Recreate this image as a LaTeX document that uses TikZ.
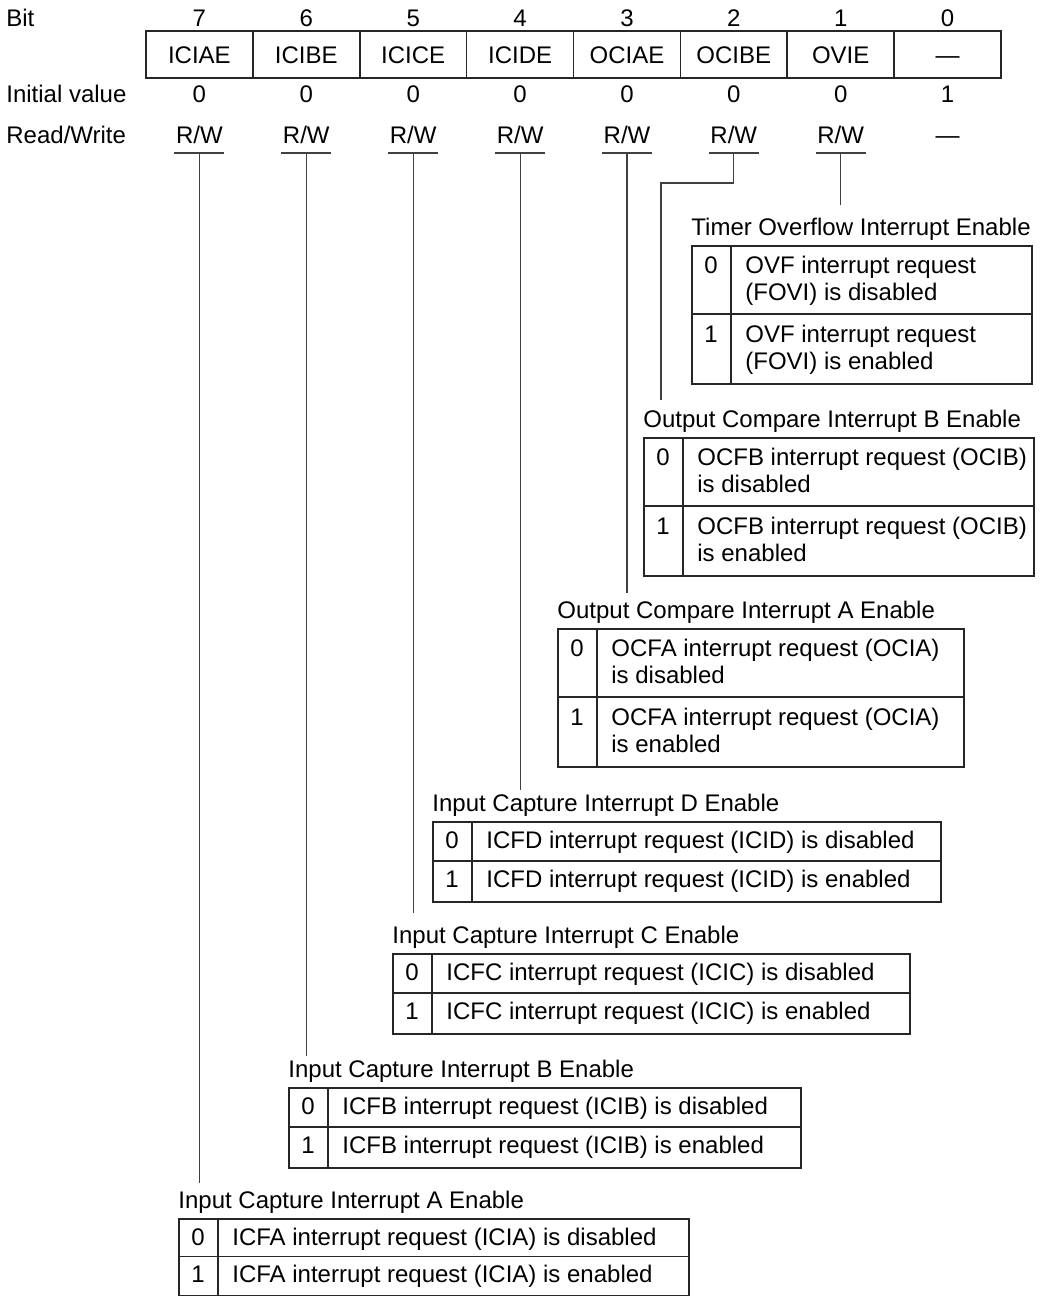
\documentclass[tikz,border=0pt]{standalone}
\usepackage{fontspec}
\setmainfont{Liberation Sans}
\newcommand\dtabB[9]{% name, L, T, R, title, a1, a2, b1, b2
  \node[txt,anchor=base west] (#1-t) at (#2,{#3-10}) {#5};
  \node[tabbox,anchor=north west,minimum width={(#4-#2)*0.5},minimum height=69pt] (#1) at (#2,#3) {};
  \draw[tabline] (#2,{#3+69}) -- (#4,{#3+69});
  \draw[tabline] ({#2+40},#3) -- ({#2+40},{#3+138});
  \node[txt,anchor=base] (#1-v0) at ({#2+20},{#3+28}) {0};
  \node[txt,anchor=base west] (#1-a1) at ({#2+54},{#3+28}) {#6};
  \node[txt,anchor=base west] (#1-a2) at ({#2+54},{#3+55}) {#7};
  \node[txt,anchor=base] (#1-v1) at ({#2+20},{#3+97}) {1};
  \node[txt,anchor=base west] (#1-b1) at ({#2+54},{#3+97}) {#8};
  \node[txt,anchor=base west] (#1-b2) at ({#2+54},{#3+124}) {#9};
}
\newcommand\dtabA[8]{% name, L, T, R, rowh, title, a, b
  \node[txt,anchor=base west] (#1-t) at (#2,{#3-10}) {#6};
  \node[tabbox,anchor=north west,minimum width={(#4-#2)*0.5},minimum height={#5}] (#1) at (#2,#3) {};
  \draw[tabline] (#2,{#3+#5}) -- (#4,{#3+#5});
  \draw[tabline] ({#2+40},#3) -- ({#2+40},{#3+2*#5});
  \node[txt,anchor=base] (#1-v0) at ({#2+20},{#3+27}) {0};
  \node[txt,anchor=base west] (#1-a) at ({#2+54},{#3+27}) {#7};
  \node[txt,anchor=base] (#1-v1) at ({#2+20},{#3+#5+26}) {1};
  \node[txt,anchor=base west] (#1-b) at ({#2+54},{#3+#5+26}) {#8};
}
\begin{document}
\begin{tikzpicture}[x=0.5pt,y=-0.5pt,
  txt/.style={inner sep=0pt,font=\fontsize{12}{13}\selectfont},
  cell/.style={draw=black!85,line width=0.75pt,minimum width=53.44pt,minimum height=23.5pt,
    inner sep=0pt,text height=8.6pt,text depth=0pt,font=\fontsize{12}{13}\selectfont},
  tabbox/.style={draw=black!85,line width=0.75pt,inner sep=0pt},
  tabline/.style={draw=black!85,line width=0.75pt},
  uline/.style={draw=black!75,line width=0.6pt},
  conn/.style={draw=black!75,line width=0.6pt}]
\useasboundingbox (0,0) rectangle (1042,1296);
% header labels
\node[txt,anchor=base west] (lbit) at (6,26) {Bit};
\node[txt,anchor=base west] (linit) at (6,102) {Initial value};
\node[txt,anchor=base west] (lrw) at (6,143.5) {Read/Write};
% bit numbers, register cells, initial values
\foreach \b/\x/\n/\iv in {7/199.4/ICIAE/0, 6/306.3/ICIBE/0, 5/413.2/ICICE/0, 4/520.1/ICIDE/0,
    3/627.0/OCIAE/0, 2/733.8/OCIBE/0, 1/840.7/OVIE/0, 0/947.6/{---}/1}{
  \node[txt,anchor=base] (bn\b) at (\x,26) {\b};
  \node[cell] (c\b) at (\x,54.5) {\n};
  \node[txt,anchor=base] (iv\b) at (\x,102) {\iv};
}
% read/write
\foreach \b/\x in {7/199.4, 6/306.3, 5/413.2, 4/520.1, 3/627.0, 2/733.8, 1/840.7}{
  \node[txt,anchor=base,minimum width=25pt] (rw\b) at (\x,143.5) {R/W};
  \coordinate (u\b) at (\x,153);
  \draw[uline] ([xshift=-12.5pt]u\b) -- ([xshift=12.5pt]u\b);
}
\node[txt,anchor=base] (rw0) at (947.6,143.5) {---};
% description tables
\dtabB{ovf}{691}{245}{1031}{Timer Overflow Interrupt Enable}{OVF interrupt request}{(FOVI) is disabled}{OVF interrupt request}{(FOVI) is enabled}
\dtabB{ocib}{643}{437}{1033}{Output Compare Interrupt B Enable}{OCFB interrupt request (OCIB)}{is disabled}{OCFB interrupt request (OCIB)}{is enabled}
\dtabB{ocia}{557}{628}{963}{Output Compare Interrupt A Enable}{OCFA interrupt request (OCIA)}{is disabled}{OCFA interrupt request (OCIA)}{is enabled}
\dtabA{icid}{432}{821}{940}{40}{Input Capture Interrupt D Enable}{ICFD interrupt request (ICID) is disabled}{ICFD interrupt request (ICID) is enabled}
\dtabA{icic}{392}{953}{909}{40}{Input Capture Interrupt C Enable}{ICFC interrupt request (ICIC) is disabled}{ICFC interrupt request (ICIC) is enabled}
\dtabA{icib}{288}{1087}{800}{40}{Input Capture Interrupt B Enable}{ICFB interrupt request (ICIB) is disabled}{ICFB interrupt request (ICIB) is enabled}
\dtabA{icia}{178}{1218}{688}{38.5}{Input Capture Interrupt A Enable}{ICFA interrupt request (ICIA) is disabled}{ICFA interrupt request (ICIA) is enabled}
% connector end points
\coordinate (e1) at (840.7,205);
\coordinate (k2) at (661,183);
\coordinate (e2) at (661,400);
\coordinate (e3) at (627.0,593);
\coordinate (e4) at (520.1,790);
\coordinate (e5) at (413.2,913);
\coordinate (e6) at (306.3,1056);
\coordinate (e7) at (199.4,1183);
% connectors
\draw[conn] (u1) -- (e1);
\draw[conn] (u2) |- (k2) -- (e2);
\draw[conn] (u3) -- (e3);
\draw[conn] (u4) -- (e4);
\draw[conn] (u5) -- (e5);
\draw[conn] (u6) -- (e6);
\draw[conn] (u7) -- (e7);
\end{tikzpicture}
\end{document}
